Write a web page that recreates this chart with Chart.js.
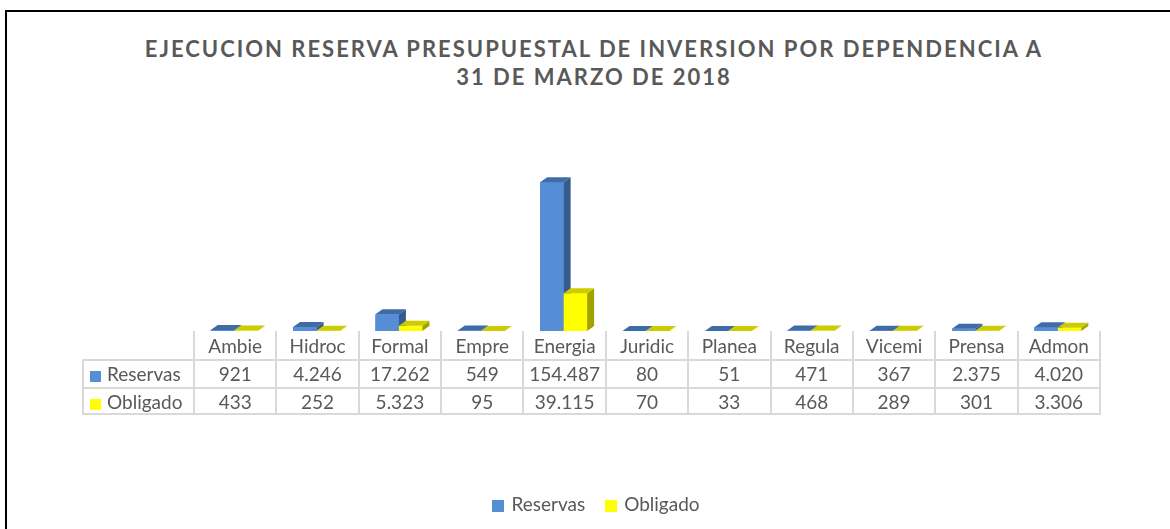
<!DOCTYPE html>
<html>
<head>
<meta charset="utf-8">
<script src="https://cdn.jsdelivr.net/npm/chart.js@4.4.1/dist/chart.umd.min.js"></script>
<style>
  html, body { margin: 0; padding: 0; background: #fff; }
  #wrap { position: relative; width: 1170px; height: 529px; overflow: hidden; font-family: Lato, "Open Sans", sans-serif; color: #595959; }
  #frame { position: absolute; left: 5px; top: 10px; width: 1170px; height: 530px; border-top: 2px solid #000; border-left: 2px solid #000; }
  #chart { position: absolute; left: 0; top: 0; }
  #title { position: absolute; left: 18px; top: 35px; width: 1152px; text-align: center; font-weight: bold; font-size: 22px; line-height: 28px; letter-spacing: 2px; color: #595959; }
  .cell { position: absolute; box-sizing: border-box; text-align: center; font-size: 19px; line-height: 25px; color: #595959; white-space: nowrap; }
  .sw { display: inline-block; width: 11px; height: 11px; margin-right: 6px; vertical-align: -1px; }
  #legend { position: absolute; top: 492px; left: 22px; width: 1148px; text-align: center; font-size: 19px; color: #595959; }
  #legend .sw { width: 12px; height: 12px; margin-right: 7px; }
  #legend span.item { margin: 0 10px; }
</style>
</head>
<body>
<div id="wrap">
  <div id="frame"></div>
  <div id="title">EJECUCION RESERVA PRESUPUESTAL DE INVERSION POR DEPENDENCIA A<br>31 DE MARZO DE 2018</div>
  <canvas id="chart" width="1170" height="529"></canvas>
  <div id="table"></div>
  <div id="legend"></div>
</div>
<script>
/* ================= DATA ================= */
const categories = ["Ambie", "Hidroc", "Formal", "Empre", "Energia", "Juridic", "Planea", "Regula", "Vicemi", "Prensa", "Admon"];
const reservas   = [921, 4246, 17262, 549, 154487, 80, 51, 471, 367, 2375, 4020];
const obligado   = [433, 252, 5323, 95, 39115, 70, 33, 468, 289, 301, 3306];
const seriesNames = ["Reservas", "Obligado"];

/* ================= STYLE ================= */
const front = ["#558ed5", "#ffff00"];
const top3d = ["#3f6ca6", "#cccc00"];
const side3d = ["#375b8c", "#a3a300"];
const DX = 7, DY = -5;

const $ = id => document.getElementById(id);

// 3D look: redraw each bar with a top and side face, series by series
const bars3d = {
  id: "bars3d",
  afterDatasetsDraw(chart) {
    const ctx = chart.ctx;
    ctx.save();
    chart.data.datasets.forEach((ds, di) => {
      const meta = chart.getDatasetMeta(di);
      meta.data.forEach(bar => {
        const l = bar.x - bar.width / 2, r = bar.x + bar.width / 2;
        const t = bar.y, b = bar.base;
        ctx.fillStyle = front[di];
        ctx.fillRect(l, t, r - l, b - t);
        ctx.fillStyle = side3d[di];
        ctx.beginPath();
        ctx.moveTo(r, t); ctx.lineTo(r + DX, t + DY);
        ctx.lineTo(r + DX, b + DY); ctx.lineTo(r, b);
        ctx.closePath(); ctx.fill();
        ctx.fillStyle = top3d[di];
        ctx.beginPath();
        ctx.moveTo(l, t); ctx.lineTo(r, t);
        ctx.lineTo(r + DX, t + DY); ctx.lineTo(l + DX, t + DY);
        ctx.closePath(); ctx.fill();
      });
    });
    ctx.restore();
  }
};

const chart = new Chart($("chart").getContext("2d"), {
  type: "bar",
  data: {
    labels: categories,
    datasets: [
      { label: seriesNames[0], data: reservas, backgroundColor: front[0], borderWidth: 0 },
      { label: seriesNames[1], data: obligado, backgroundColor: front[1], borderWidth: 0 }
    ]
  },
  options: {
    responsive: false,
    animation: false,
    devicePixelRatio: 1,
    layout: { padding: { left: 193, right: 71, top: 119, bottom: 198 } },
    datasets: { bar: { barPercentage: 1, categoryPercentage: 0.57 } },
    scales: {
      x: { display: false },
      y: { display: false, min: 0, max: 220000 }
    },
    plugins: { legend: { display: false }, tooltip: { enabled: false }, title: { display: false } }
  },
  plugins: [bars3d]
});

/* ================= DATA TABLE ================= */
function fmt(v) {
  return String(v).replace(/\B(?=(\d{3})+(?!\d))/g, ".");
}

const area = chart.chartArea;
const colW = (area.right - area.left) / categories.length;
const tableTop = Math.round(area.bottom);
const rowH = 28;
const labelLeft = 82;
const line = "2px solid #d9d9d9";
const tbl = $("table");

function cell(x, y, w, html, borders) {
  const d = document.createElement("div");
  d.className = "cell";
  d.style.left = x + "px";
  d.style.top = y + "px";
  d.style.width = w + "px";
  d.style.height = rowH + "px";
  borders.forEach(side => d.style["border" + side] = line);
  d.innerHTML = html;
  tbl.appendChild(d);
  return d;
}

categories.forEach((c, i) => {
  const x = area.left + i * colW;
  const last = i === categories.length - 1;
  const h = cell(x, tableTop, colW + (last ? 2 : 0), c, last ? ["Left", "Right"] : ["Left"]);
  h.style.lineHeight = "30px";
});

[reservas, obligado].forEach((vals, r) => {
  const y = tableTop + rowH * (r + 1);
  const lastRow = r === 1;
  const lb = cell(labelLeft, y, area.left - labelLeft,
    `<span class="sw" style="background:${front[r]}"></span>${seriesNames[r]}`,
    lastRow ? ["Left", "Top", "Bottom"] : ["Left", "Top"]);
  lb.style.textAlign = "left";
  lb.style.paddingLeft = "6px";
  vals.forEach((v, i) => {
    const x = area.left + i * colW;
    const last = i === vals.length - 1;
    const b = ["Left", "Top"];
    if (last) b.push("Right");
    if (lastRow) b.push("Bottom");
    cell(x, y, colW + (last ? 2 : 0), fmt(v), b);
  });
});

/* ================= LEGEND ================= */
$("legend").innerHTML = seriesNames.map((n, i) =>
  `<span class="item"><span class="sw" style="background:${front[i]}"></span>${n}</span>`).join("");
</script>
</body>
</html>
